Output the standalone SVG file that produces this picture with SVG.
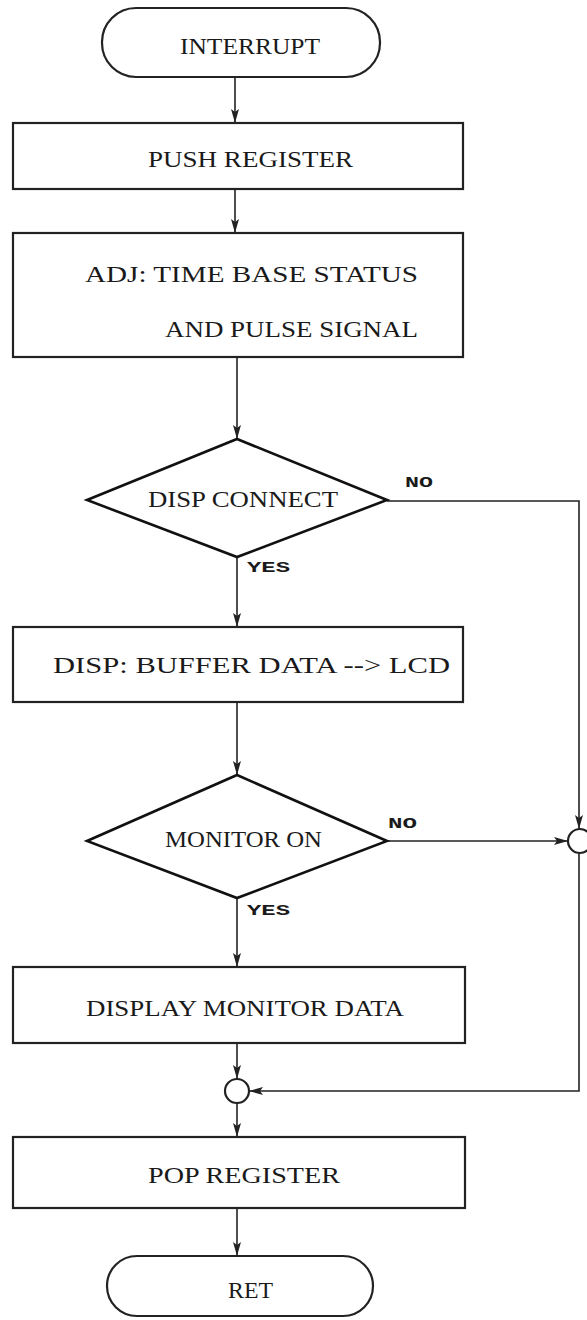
<svg xmlns="http://www.w3.org/2000/svg" width="587" height="1320" viewBox="0 0 587 1320">
<style>
.box{fill:#fff;stroke:#222;stroke-width:2.2}
.dia{fill:#fff;stroke:#111;stroke-width:2.6}
.ln{fill:none;stroke:#222;stroke-width:1.6}
.t{font-family:"Liberation Serif",serif;font-size:23px;fill:#1a1a1a}
.lb{font-family:"Liberation Mono",monospace;font-size:14px;font-weight:bold;fill:#1a1a1a}
</style>
<defs>
<marker id="ah" viewBox="0 0 14 8" refX="14" refY="4" markerWidth="14" markerHeight="8" markerUnits="userSpaceOnUse" orient="auto">
<path d="M0,0 L14,4 L0,8 L3,4 Z" fill="#222"/>
</marker>
</defs>
<rect width="587" height="1320" fill="#fff"/>
<g id="connectors">
<line class="ln" x1="235" y1="77" x2="235" y2="123" marker-end="url(#ah)"/>
<line class="ln" x1="235" y1="189" x2="235" y2="233" marker-end="url(#ah)"/>
<line class="ln" x1="237" y1="357" x2="237" y2="439" marker-end="url(#ah)"/>
<line class="ln" x1="237" y1="557" x2="237" y2="627" marker-end="url(#ah)"/>
<line class="ln" x1="237" y1="702" x2="237" y2="775" marker-end="url(#ah)"/>
<line class="ln" x1="237" y1="898" x2="237" y2="967" marker-end="url(#ah)"/>
<line class="ln" x1="237" y1="1043" x2="237" y2="1079" marker-end="url(#ah)"/>
<line class="ln" x1="237" y1="1103" x2="237" y2="1137" marker-end="url(#ah)"/>
<line class="ln" x1="237" y1="1208" x2="237" y2="1256" marker-end="url(#ah)"/>
<polyline class="ln" points="387,501 579,501 579,829" marker-end="url(#ah)"/>
<line class="ln" x1="387" y1="841" x2="568" y2="841" marker-end="url(#ah)"/>
<polyline class="ln" points="579,853 579,1091 249,1091" marker-end="url(#ah)"/>
<text class="lb" x="405" y="487" textLength="28" lengthAdjust="spacingAndGlyphs">NO</text>
<text class="lb" x="247" y="572" textLength="43" lengthAdjust="spacingAndGlyphs">YES</text>
<text class="lb" x="388" y="828" textLength="29" lengthAdjust="spacingAndGlyphs">NO</text>
<text class="lb" x="247" y="915" textLength="43" lengthAdjust="spacingAndGlyphs">YES</text>
</g>
<g id="n_interrupt">
<rect class="box" x="102" y="8" width="278" height="69" rx="34" ry="34"/>
<text class="t" x="180" y="54" textLength="140" lengthAdjust="spacingAndGlyphs">INTERRUPT</text>
</g>
<g id="n_push">
<rect class="box" x="13" y="123" width="450" height="66"/>
<text class="t" x="148" y="167" textLength="205" lengthAdjust="spacingAndGlyphs">PUSH REGISTER</text>
</g>
<g id="n_adj">
<rect class="box" x="13" y="233" width="450" height="124"/>
<text class="t" x="85" y="282" textLength="333" lengthAdjust="spacingAndGlyphs">ADJ: TIME BASE STATUS</text>
<text class="t" x="165" y="337" textLength="253" lengthAdjust="spacingAndGlyphs">AND PULSE SIGNAL</text>
</g>
<g id="n_dispconnect">
<polygon class="dia" points="237,439 387,500 237,557 87,500"/>
<text class="t" x="148" y="507" textLength="190" lengthAdjust="spacingAndGlyphs">DISP CONNECT</text>
</g>
<g id="n_dispbuffer">
<rect class="box" x="13" y="627" width="450" height="75"/>
<text class="t" x="53" y="673" textLength="397" lengthAdjust="spacingAndGlyphs">DISP: BUFFER DATA --&gt; LCD</text>
</g>
<g id="n_monitoron">
<polygon class="dia" points="237,775 387,841 237,898 87,841"/>
<text class="t" x="165" y="847" textLength="157" lengthAdjust="spacingAndGlyphs">MONITOR ON</text>
</g>
<g id="n_join1">
<circle class="box" cx="580" cy="841" r="12"/>
</g>
<g id="n_displaymon">
<rect class="box" x="13" y="967" width="452" height="76"/>
<text class="t" x="86" y="1016" textLength="318" lengthAdjust="spacingAndGlyphs">DISPLAY MONITOR DATA</text>
</g>
<g id="n_join2">
<circle class="box" cx="237" cy="1091" r="12"/>
</g>
<g id="n_pop">
<rect class="box" x="13" y="1137" width="452" height="71"/>
<text class="t" x="148" y="1183" textLength="192" lengthAdjust="spacingAndGlyphs">POP REGISTER</text>
</g>
<g id="n_ret">
<rect class="box" x="107" y="1256" width="266" height="60" rx="30" ry="30"/>
<text class="t" x="228" y="1298" textLength="45" lengthAdjust="spacingAndGlyphs">RET</text>
</g>
</svg>
